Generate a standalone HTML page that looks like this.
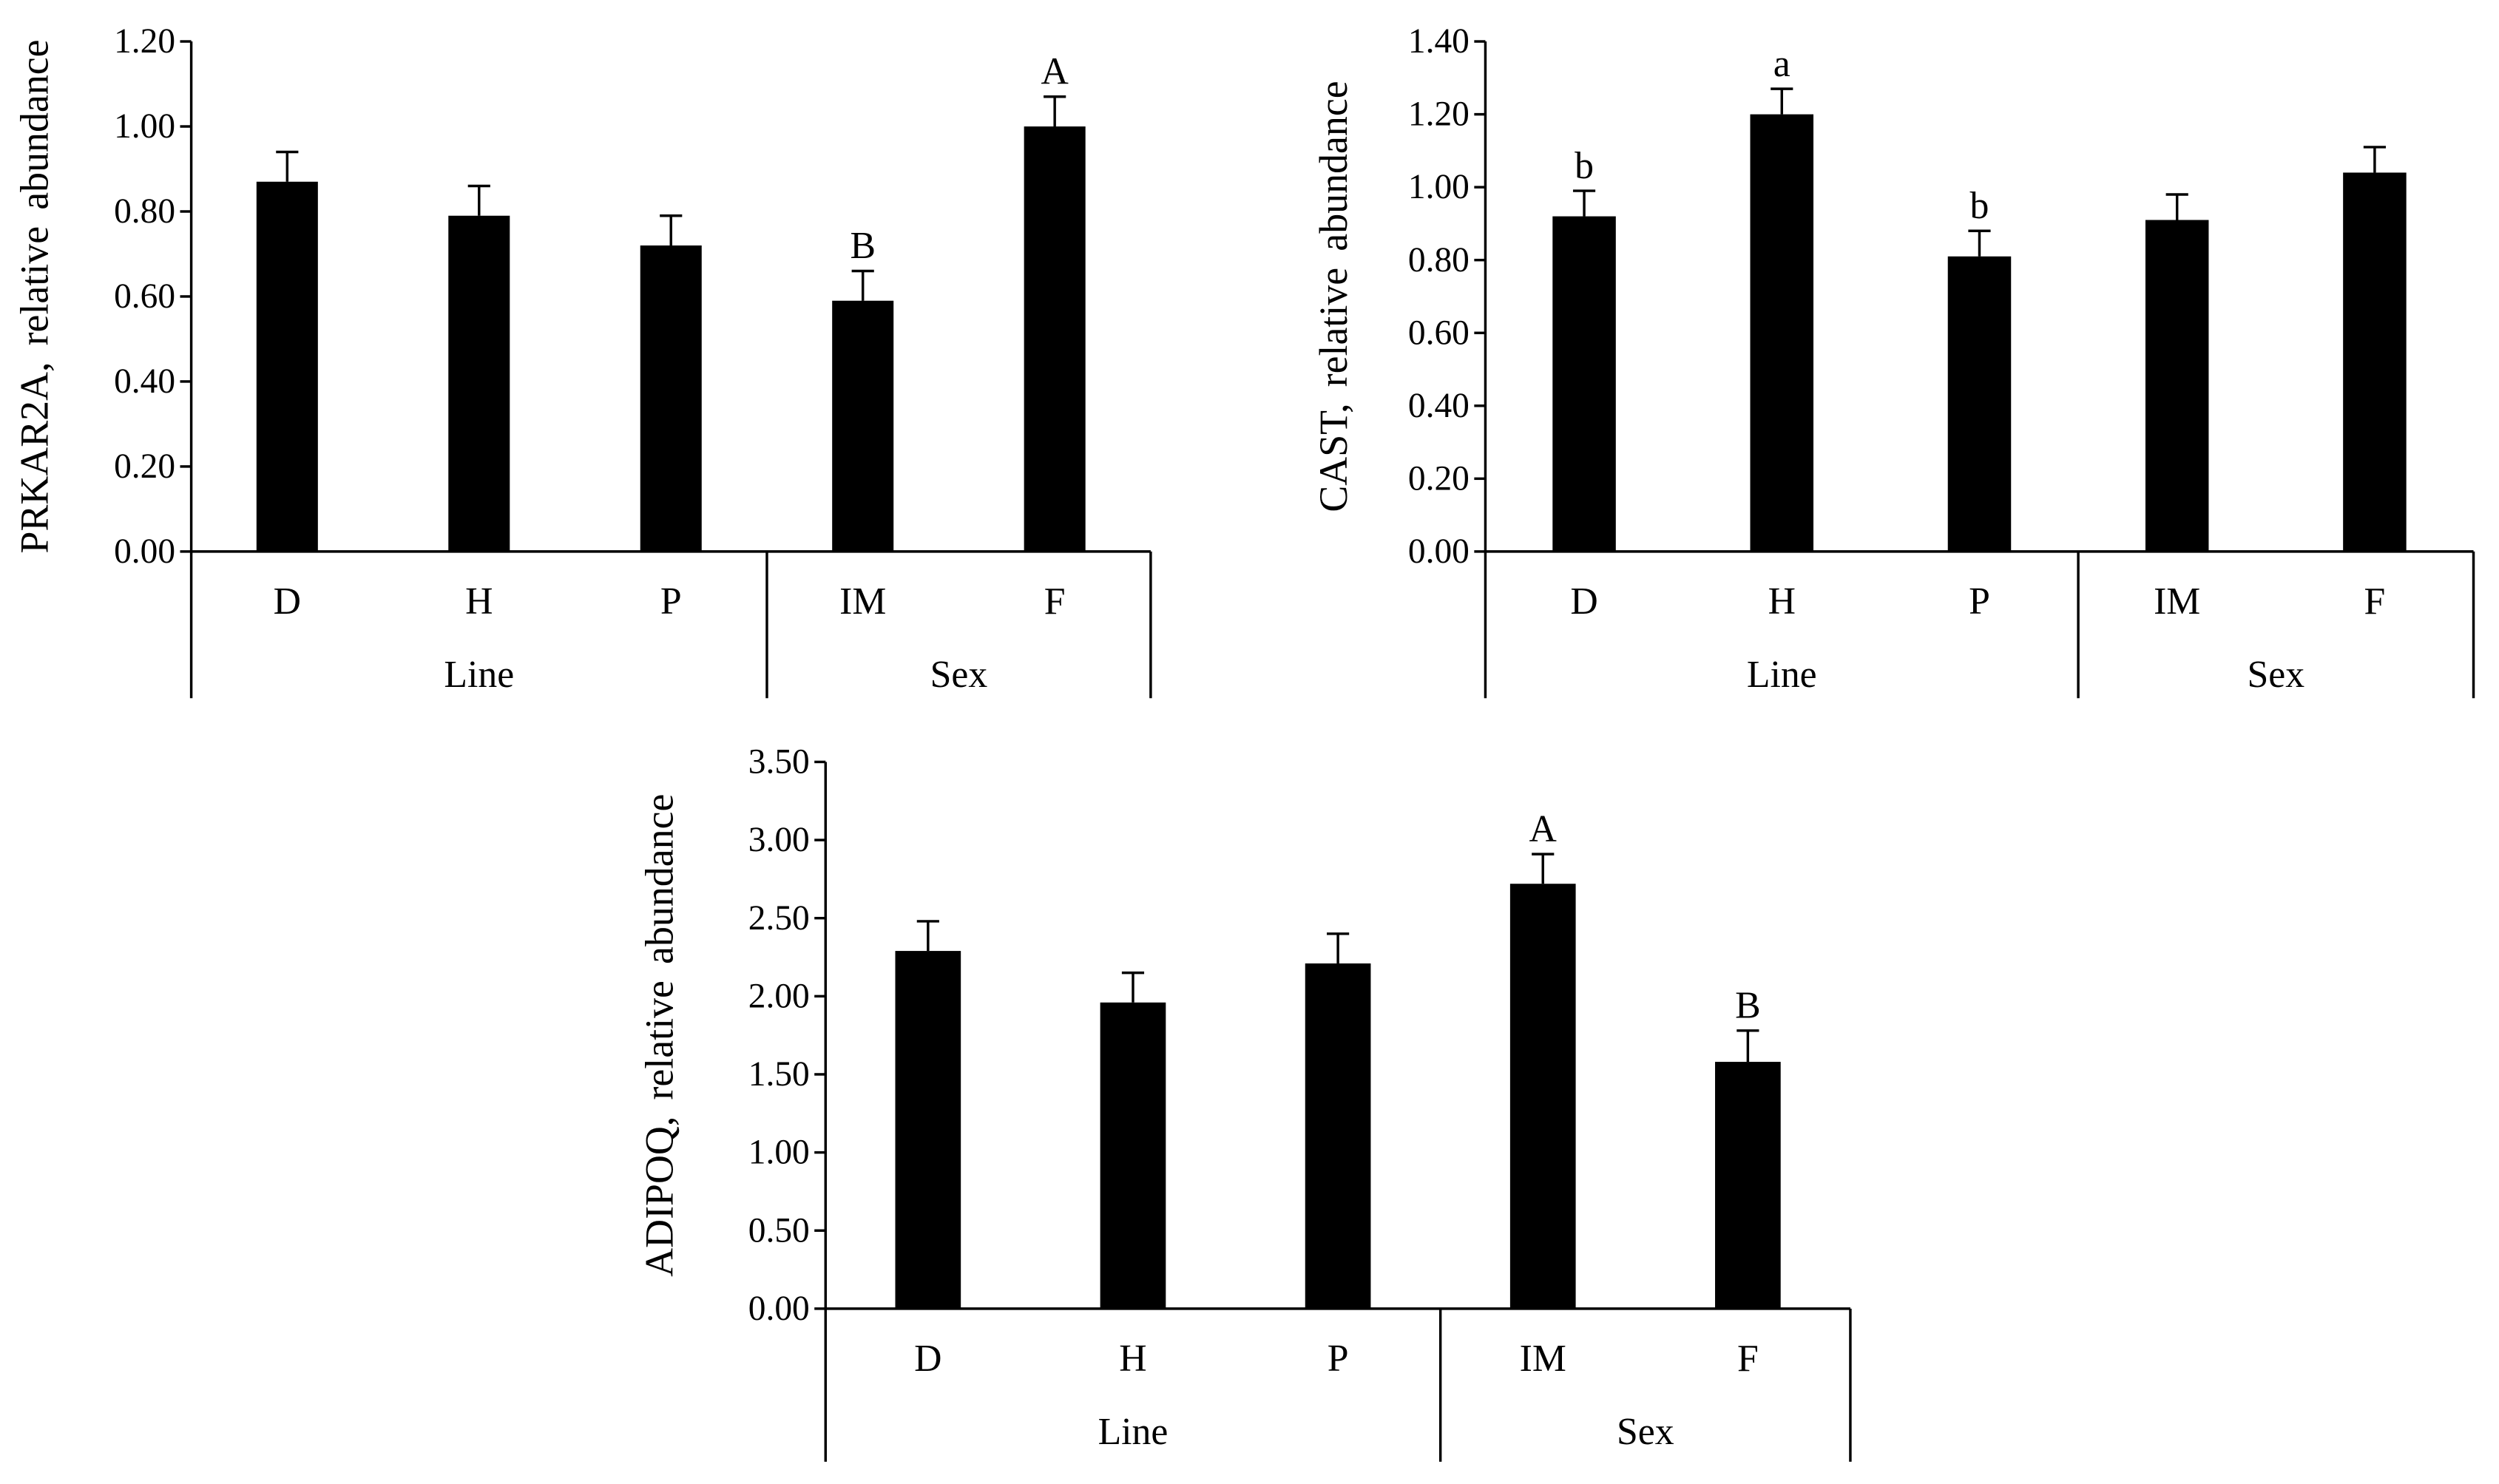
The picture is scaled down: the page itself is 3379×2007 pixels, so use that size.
<!DOCTYPE html>
<html><head><meta charset="utf-8"><style>
html,body{margin:0;padding:0;background:#fff;}
svg{display:block;}
text{font-family:"Liberation Serif",serif;fill:#000;}
</style></head><body>
<svg id="fig" width="3379" height="2007" viewBox="0 0 1568 931" preserveAspectRatio="none" xmlns="http://www.w3.org/2000/svg"></svg>
<script>
const categories = ["D","H","P","IM","F"];
const groups = ["Line","Sex"];
const prkValues = [0.87,0.79,0.72,0.59,1.00];
const prkErrors = [0.07,0.07,0.07,0.07,0.07];
const prkLetters = ["","","","B","A"];
const prkTicks = ["0.00","0.20","0.40","0.60","0.80","1.00","1.20"];
const castValues = [0.92,1.20,0.81,0.91,1.04];
const castErrors = [0.07,0.07,0.07,0.07,0.07];
const castLetters = ["b","a","b","",""];
const castTicks = ["0.00","0.20","0.40","0.60","0.80","1.00","1.20","1.40"];
const adiValues = [2.29,1.96,2.21,2.72,1.58];
const adiErrors = [0.19,0.19,0.19,0.19,0.20];
const adiLetters = ["","","","A","B"];
const adiTicks = ["0.00","0.50","1.00","1.50","2.00","2.50","3.00","3.50"];

const svg = document.getElementById('fig');
const NS = "http://www.w3.org/2000/svg";
function mk(tag, attrs, parent){const e=document.createElementNS(NS,tag);for(const k in attrs)e.setAttribute(k,attrs[k]);(parent||svg).appendChild(e);return e;}

function chart(cfg){
  const g = mk('g',{});
  
  
  const ticks = cfg.ticks.map(Number);
  const maxV = ticks[ticks.length-1];
  const y = v => cfg.y0 - (v/maxV)*(cfg.y0-cfg.yTop);
  const n = categories.length;
  const x = i => cfg.x0 + (cfg.x1-cfg.x0)*(i+0.5)/n;
  const sw = 1.6;
  const ax = mk('line',{x1:cfg.x0,y1:cfg.yTop,x2:cfg.x0,y2:cfg.bottom,stroke:'#000','stroke-width':sw},g);
  
  
  cfg.ticks.forEach((t)=>{
    const yy=y(Number(t));
    mk('line',{x1:cfg.x0-7,y1:yy,x2:cfg.x0,y2:yy,stroke:'#000','stroke-width':sw},g);
    const tx=mk('text',{x:cfg.x0-10,y:yy+7,'text-anchor':'end','font-size':22},g);
    tx.textContent=t;
    
    
  });
  const xa=mk('line',{x1:cfg.x0,y1:cfg.y0,x2:cfg.x1,y2:cfg.y0,stroke:'#000','stroke-width':sw},g);
  
  
  const xs = cfg.x0 + (cfg.x1-cfg.x0)*3/n;
  mk('line',{x1:xs,y1:cfg.y0,x2:xs,y2:cfg.bottom,stroke:'#000','stroke-width':sw},g);
  mk('line',{x1:cfg.x1,y1:cfg.y0,x2:cfg.x1,y2:cfg.bottom,stroke:'#000','stroke-width':sw},g);
  const bw = (cfg.x1-cfg.x0)/n*0.32;
  categories.forEach((c,i)=>{
    const v=cfg.values[i], e=cfg.errors[i], cx=x(i);
    const r=mk('rect',{x:cx-bw/2,y:y(v),width:bw,height:cfg.y0-y(v),fill:'#000'},g);
    
    
    mk('line',{x1:cx,y1:y(v),x2:cx,y2:y(v+e),stroke:'#000','stroke-width':sw},g);
    mk('line',{x1:cx-7,y1:y(v+e),x2:cx+7,y2:y(v+e),stroke:'#000','stroke-width':sw},g);
    if(cfg.letters[i]){
      const lt=mk('text',{x:cx,y:y(v+e)-8,'text-anchor':'middle','font-size':24},g);
      lt.textContent=cfg.letters[i];
      
      
    }
    const cl=mk('text',{x:cx,y:cfg.y0+39,'text-anchor':'middle','font-size':24},g);
    cl.textContent=c;
    
    
  });
  const gl1=mk('text',{x:(cfg.x0+xs)/2,y:cfg.y0+85,'text-anchor':'middle','font-size':24},g);
  gl1.textContent=groups[0];
  
  
  const gl2=mk('text',{x:(xs+cfg.x1)/2,y:cfg.y0+85,'text-anchor':'middle','font-size':24},g);
  gl2.textContent=groups[1];
  
  
  const ty=(cfg.yTop+cfg.y0)/2;
  const tt=mk('text',{x:cfg.titleX,y:ty,'text-anchor':'middle','font-size':25,transform:`rotate(-90 ${cfg.titleX} ${ty})`,'word-spacing':'4'},g);
  tt.textContent=cfg.title;
  
  
}
chart({name:'prkar2a-chart',x0:120,x1:722,yTop:26,y0:346,bottom:438,ticks:prkTicks,values:prkValues,errors:prkErrors,letters:prkLetters,title:'PRKAR2A, relative abundance',titleX:30});
chart({name:'cast-chart',x0:932,x1:1552,yTop:26,y0:346,bottom:438,ticks:castTicks,values:castValues,errors:castErrors,letters:castLetters,title:'CAST, relative abundance',titleX:845});
chart({name:'adipoq-chart',x0:518,x1:1161,yTop:478,y0:821,bottom:917,ticks:adiTicks,values:adiValues,errors:adiErrors,letters:adiLetters,title:'ADIPOQ, relative abundance',titleX:422});
</script>
</body></html>
